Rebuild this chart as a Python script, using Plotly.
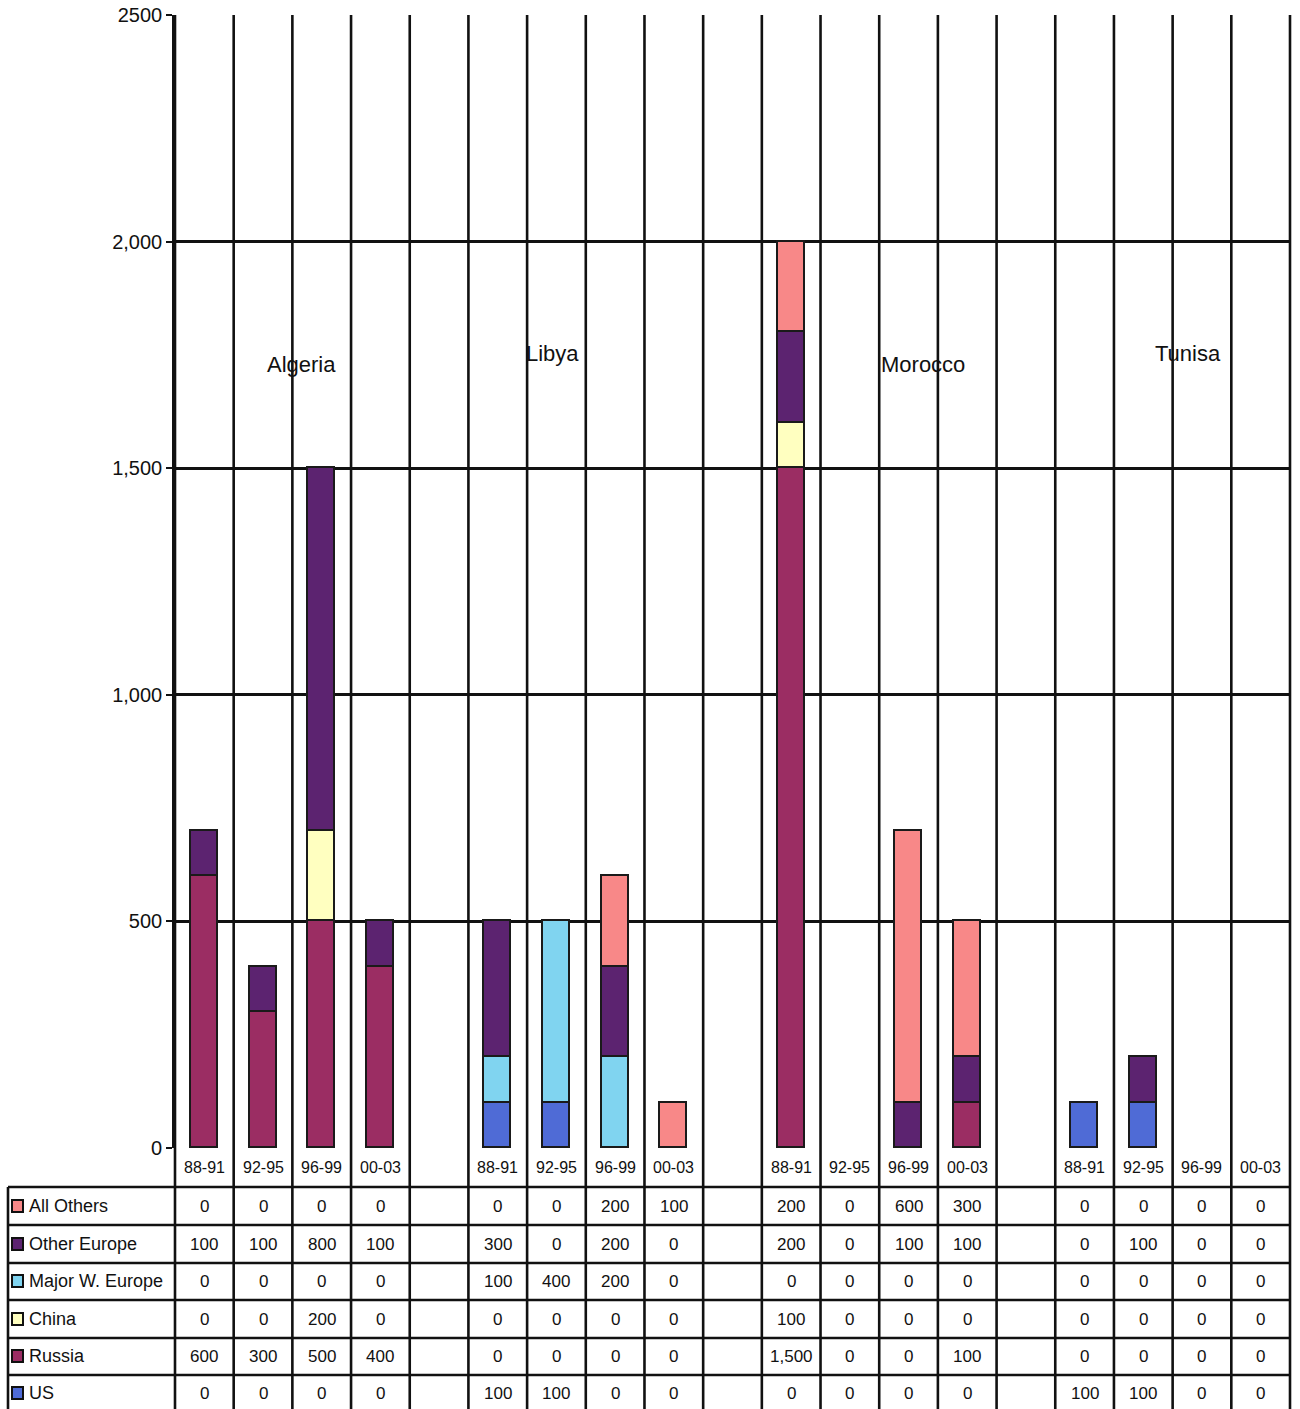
import plotly.graph_objects as go

# ---- data -------------------------------------------------------------
countries = ["Algeria", "Libya", "Morocco", "Tunisa"]
periods = ["88-91", "92-95", "96-99", "00-03"]

# one value per (country, period), country by country
us = [0, 0, 0, 0, 100, 100, 0, 0, 0, 0, 0, 0, 100, 100, 0, 0]
russia = [600, 300, 500, 400, 0, 0, 0, 0, 1500, 0, 0, 100, 0, 0, 0, 0]
china = [0, 0, 200, 0, 0, 0, 0, 0, 100, 0, 0, 0, 0, 0, 0, 0]
major_w_europe = [0, 0, 0, 0, 100, 400, 200, 0, 0, 0, 0, 0, 0, 0, 0, 0]
other_europe = [100, 100, 800, 100, 300, 0, 200, 0, 200, 0, 100, 100, 0, 100, 0, 0]
all_others = [0, 0, 0, 0, 0, 0, 200, 100, 200, 0, 600, 300, 0, 0, 0, 0]

y_ticks = [0, 500, 1000, 1500, 2000, 2500]
y_tick_text = ["0", "500", "1,000", "1,500", "2,000", "2500"]

# stacking order, bottom to top
series = [
    ("US", us, "#4F6BD6"),
    ("Russia", russia, "#9B2D63"),
    ("China", china, "#FFFFC0"),
    ("Major W. Europe", major_w_europe, "#80D4F0"),
    ("Other Europe", other_europe, "#5C2370"),
    ("All Others", all_others, "#F88888"),
]

# ---- layout geometry (pixels) -------------------------------------------
W, H = 1300, 1409
ML, MR, MT, MB = 175, 10, 15, 261
PW, PH = W - ML - MR, H - MT - MB
n_slots = len(countries) * (len(periods) + 1) - 1  # periods plus a gap column between countries


def px_x(px):
    return (px - ML) / PW


def px_y(py):
    return (MT + PH - py) / PH


slot_x = [c * (len(periods) + 1) + p for c in range(len(countries)) for p in range(len(periods))]

fig = go.Figure()
for name, vals, color in series:
    fig.add_trace(go.Bar(
        x=slot_x,
        y=[v if v else None for v in vals],
        name=name,
        marker=dict(color=color, line=dict(color="#1a1a1a", width=1.8)),
        width=0.46,
        hoverinfo="name+y",
    ))

FONT = "Liberation Sans, Arial, sans-serif"
LINE = "#111111"

shapes = []
annotations = []

# vertical grid lines running through chart and table
for k in range(n_slots + 1):
    xp = k / n_slots
    shapes.append(dict(type="line", xref="paper", yref="paper", x0=xp, x1=xp,
                       y0=1, y1=px_y(H + 5), line=dict(color=LINE, width=2.6)))

# table rows
row_edges = [1187, 1225, 1263, 1300, 1338, 1375]
row_centers = [1206, 1244, 1281, 1319, 1356, 1393]
table_left = px_x(8)
for py in row_edges:
    shapes.append(dict(type="line", xref="paper", yref="paper", x0=table_left, x1=1,
                       y0=px_y(py), y1=px_y(py), line=dict(color=LINE, width=2.6)))
shapes.append(dict(type="line", xref="paper", yref="paper", x0=table_left, x1=table_left,
                   y0=px_y(1187), y1=px_y(H + 5), line=dict(color=LINE, width=2.6)))

# period labels
for c in range(len(countries)):
    for p, lab in enumerate(periods):
        annotations.append(dict(x=c * (len(periods) + 1) + p, xref="x", y=px_y(1167), yref="paper",
                                text=lab, showarrow=False, font=dict(family=FONT, size=16, color="#111"),
                                xanchor="center", yanchor="middle"))

# table values and row labels (top row is the top of the stack)
for r, (name, vals, color) in enumerate(reversed(series)):
    yc = px_y(row_centers[r])
    annotations.append(dict(x=px_x(27), xref="paper", y=yc, yref="paper", text=name,
                            showarrow=False, xanchor="left", yanchor="middle",
                            font=dict(family=FONT, size=18, color="#111")))
    shapes.append(dict(type="rect", xref="paper", yref="paper",
                       x0=px_x(12), x1=px_x(23), y0=yc - 6 / PH, y1=yc + 6 / PH,
                       fillcolor=color, line=dict(color="#111", width=2)))
    for i, v in enumerate(vals):
        annotations.append(dict(x=slot_x[i], xref="x", y=yc, yref="paper", text=f"{v:,}",
                                showarrow=False, xanchor="center", yanchor="middle",
                                font=dict(family=FONT, size=17, color="#111")))

# country titles
country_label_pos = [(1.65, 1728), (5.94, 1754), (12.25, 1728), (16.76, 1754)]
for name, (xv, yv) in zip(countries, country_label_pos):
    annotations.append(dict(x=xv, xref="x", y=yv, yref="y", text=name, showarrow=False,
                            xanchor="center", yanchor="middle",
                            font=dict(family=FONT, size=22, color="#111")))

fig.update_layout(
    width=W, height=H,
    margin=dict(l=ML, r=MR, t=MT, b=MB, autoexpand=False),
    barmode="stack",
    bargap=0,
    showlegend=False,
    plot_bgcolor="white",
    paper_bgcolor="white",
    shapes=shapes,
    annotations=annotations,
    xaxis=dict(range=[-0.5, n_slots - 0.5], tickmode="array",
               tickvals=[k - 0.5 for k in range(n_slots + 1)], ticktext=[""] * (n_slots + 1),
               ticks="", showgrid=False, zeroline=False, showline=False, fixedrange=True,
               automargin=False),
    yaxis=dict(range=[0, 2500], tickmode="array", tickvals=y_ticks, ticktext=y_tick_text,
               showgrid=True, gridcolor=LINE, gridwidth=2.6, zeroline=False,
               showline=True, linecolor=LINE, linewidth=2.6, ticks="outside", ticklen=6,
               tickcolor=LINE, tickwidth=2, tickfont=dict(family=FONT, size=20, color="#111"),
               mirror=False, automargin=False),
)

fig.write_html("out.html")
